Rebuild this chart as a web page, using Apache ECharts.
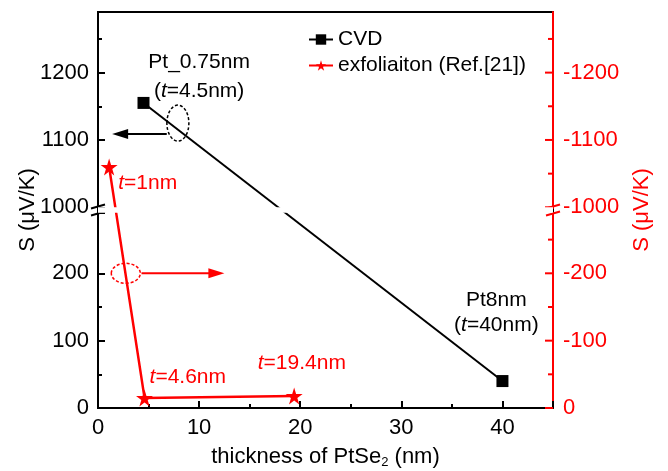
<!DOCTYPE html>
<html>
<head>
<meta charset="utf-8">
<script src="https://cdn.jsdelivr.net/npm/echarts@6/dist/echarts.min.js"></script>
<style>
  html, body { margin: 0; padding: 0; background: #fff; }
  #chart { width: 668px; height: 471px; }
</style>
</head>
<body>
<div id="chart"></div>
<script>
// thickness of PtSe2 (nm) vs Seebeck coefficient
const cvdThickness = [4.5, 40]
const cvdS = [1155, 40]
const exfThickness = [1.1, 4.6, 19.4]
const exfS = [-1060, -15, -18] // read on the right (negative) axis
const xTicks = [0, 10, 20, 30, 40]
const leftTicks = [0, 100, 200, 1000, 1100, 1200]
const rightTicks = [0, -100, -200, -1000, -1100, -1200]
const rightMinorTicks = [-50, -150, -250, -1050, -1150, -1250]

const FONT = 'Liberation Sans, Arial, sans-serif'
const RED = '#ff0000'
const STAR = 'path://M50,0 L61,35 L98,35 L68,57 L79,91 L50,70 L21,91 L32,57 L2,35 L39,35 Z'
const Y_MAX = 1290
const BREAK = [290, 1000]

const chart = echarts.init(document.getElementById('chart'))

const breakArea = {
  show: true,
  expandOnClick: false,
  zigzagAmplitude: 0,
  itemStyle: { color: '#fff', borderColor: '#fff', borderWidth: 0, opacity: 1 }
}

chart.setOption({
  animation: false,
  textStyle: { fontFamily: FONT },
  grid: {
    left: 98, right: 115, top: 12, bottom: 63,
    outerBoundsMode: 'none',
    containLabel: false,
    show: true, borderColor: '#000', borderWidth: 2
  },
  legend: {
    orient: 'vertical',
    left: 303,
    top: 24,
    itemWidth: 24,
    itemHeight: 13,
    itemGap: 5,
    textStyle: { fontFamily: FONT, fontSize: 21, color: '#000' },
    data: ['CVD', 'exfoliaiton (Ref.[21])']
  },
  xAxis: {
    type: 'value',
    min: 0,
    max: 45,
    interval: 10,
    splitLine: { show: false },
    axisLine: { onZero: false, lineStyle: { color: '#000', width: 2 } },
    axisTick: { inside: true, length: 7, lineStyle: { color: '#000', width: 2 } },
    minorTick: { show: true, splitNumber: 2, length: 4, lineStyle: { color: '#000', width: 2 } },
    axisLabel: {
      fontFamily: FONT, fontSize: 22, color: '#000', margin: 9,
      formatter: v => xTicks.includes(v) ? String(v) : ''
    },
    name: '{t|thickness of PtSe}{s|2}{t| (nm)}',
    nameLocation: 'middle',
    nameGap: 36,
    nameMoveOverlap: false,
    nameTextStyle: {
      rich: {
        t: { fontFamily: FONT, fontSize: 22, color: '#000' },
        s: { fontFamily: FONT, fontSize: 13, color: '#000', verticalAlign: 'bottom', padding: [12, 0, 0, 0] }
      }
    }
  },
  yAxis: [
    {
      type: 'value',
      position: 'left',
      min: 0,
      max: Y_MAX,
      interval: 100,
      breaks: [{ start: BREAK[0], end: BREAK[1], gap: 8 }],
      breakArea: breakArea,
      breakLabelLayout: { moveOverlap: false },
      splitLine: { show: false },
      axisLine: { show: true, onZero: false, lineStyle: { color: '#000', width: 2 } },
      axisTick: { show: true, inside: true, length: 7, lineStyle: { color: '#000', width: 2 } },
      minorTick: { show: true, splitNumber: 2, length: 4, lineStyle: { color: '#000', width: 2 } },
      axisLabel: {
        fontFamily: FONT, fontSize: 22, color: '#000', margin: 9,
        formatter: v => leftTicks.includes(v) ? String(v) : ''
      },
      name: 'S (μV/K)',
      nameLocation: 'middle',
      nameRotate: 90,
      nameGap: 59,
      nameMoveOverlap: false,
      nameTextStyle: { fontFamily: FONT, fontSize: 22, color: '#000' }
    },
    {
      // same scale as the left axis, negated
      type: 'value',
      position: 'right',
      min: -Y_MAX,
      max: 0,
      inverse: true,
      breaks: [{ start: -BREAK[1], end: -BREAK[0], gap: 8 }],
      breakArea: breakArea,
      breakLabelLayout: { moveOverlap: false },
      splitLine: { show: false },
      axisLine: { show: true, onZero: false, lineStyle: { color: RED, width: 2 } },
      axisTick: { show: false },
      axisLabel: {
        customValues: rightTicks,
        fontFamily: FONT, fontSize: 22, color: RED, margin: 10,
        formatter: v => String(v)
      },
      name: 'S (μV/K)',
      nameLocation: 'middle',
      nameRotate: 90,
      nameGap: 78,
      nameMoveOverlap: false,
      nameTextStyle: { fontFamily: FONT, fontSize: 22, color: RED }
    }
  ],
  series: [
    {
      name: 'CVD',
      type: 'line',
      yAxisIndex: 0,
      data: cvdThickness.map((t, i) => [t, cvdS[i]]),
      symbol: 'rect',
      symbolSize: 12,
      lineStyle: { color: '#000', width: 2 },
      itemStyle: { color: '#000' },
      z: 3
    },
    {
      name: 'exfoliaiton (Ref.[21])',
      type: 'line',
      yAxisIndex: 1,
      data: exfThickness.map((t, i) => [t, exfS[i]]),
      symbol: STAR,
      symbolSize: 17,
      lineStyle: { color: RED, width: 2.5 },
      itemStyle: { color: RED },
      z: 3
    }
  ]
})

// annotations, placed in data coordinates of the left axis
const px = (x, y) => chart.convertToPixel({ xAxisIndex: 0, yAxisIndex: 0 }, [x, y])

function label(x, y, rich, color, align) {
  const p = px(x, y)
  return {
    type: 'text', x: p[0], y: p[1], z: 10,
    style: {
      text: rich, align: align || 'left', verticalAlign: 'middle',
      rich: {
        n: { fontFamily: FONT, fontSize: 21, fill: color },
        i: { fontFamily: FONT, fontSize: 21, fontStyle: 'italic', fill: color }
      }
    }
  }
}

function arrow(x1, x2, y, color) {
  const a = px(x1, y), b = px(x2, y)
  const dir = Math.sign(b[0] - a[0])
  return [
    { type: 'line', z: 10, shape: { x1: a[0], y1: a[1], x2: b[0] - dir * 10, y2: b[1] }, style: { stroke: color, lineWidth: 2 } },
    { type: 'polygon', z: 10, shape: { points: [[b[0], b[1]], [b[0] - dir * 16, b[1] - 5], [b[0] - dir * 16, b[1] + 5]] }, style: { fill: color } }
  ]
}

function ring(x, y, rx, ry, color) {
  const p = px(x, y)
  return {
    type: 'ellipse', z: 10,
    shape: { cx: p[0], cy: p[1], rx: rx, ry: ry },
    style: { fill: null, stroke: color, lineWidth: 1.5, lineDash: [3, 2] }
  }
}

// right-axis ticks: the right axis mirrors the left one, so place -v on the left scale
function rightTick(v, len) {
  const p = px(45, -v)
  return {
    type: 'line', z: 12,
    shape: { x1: p[0] - len, y1: p[1], x2: p[0], y2: p[1] },
    style: { stroke: RED, lineWidth: 2 }
  }
}

// "//" break marks on both vertical axes
function breakMarks(xVal, color) {
  const lo = px(xVal, BREAK[0]), hi = px(xVal, BREAK[1])
  const x = lo[0], y = (lo[1] + hi[1]) / 2
  return [-3.5, 3.5].map(d => ({
    type: 'line', z: 12,
    shape: { x1: x - 7, y1: y + d + 2, x2: x + 7, y2: y + d - 2 },
    style: { stroke: color, lineWidth: 2 }
  }))
}

chart.setOption({
  graphic: [
    label(10.0, 1215, '{n|Pt_0.75nm}', '#000', 'center'),
    label(10.0, 1173, '{n|(}{i|t}{n|=4.5nm)}', '#000', 'center'),
    label(2.0, 1036, '{i|t}{n|=1nm}', RED),
    label(5.1, 46, '{i|t}{n|=4.6nm}', RED),
    label(15.8, 66, '{i|t}{n|=19.4nm}', RED),
    label(39.4, 160, '{n|Pt8nm}', '#000', 'center'),
    label(39.4, 123, '{n|(}{i|t}{n|=40nm)}', '#000', 'center'),
    ring(7.9, 1125, 11, 18, '#000'),
    ...arrow(6.8, 1.4, 1109, '#000'),
    ring(2.75, 200, 14.5, 10, RED),
    ...arrow(4.3, 12.5, 200, RED),
    ...rightTicks.map(v => rightTick(v, 8)),
    ...rightMinorTicks.map(v => rightTick(v, 5)),
    ...breakMarks(0, '#000'),
    ...breakMarks(45, RED)
  ]
})
</script>
</body>
</html>
